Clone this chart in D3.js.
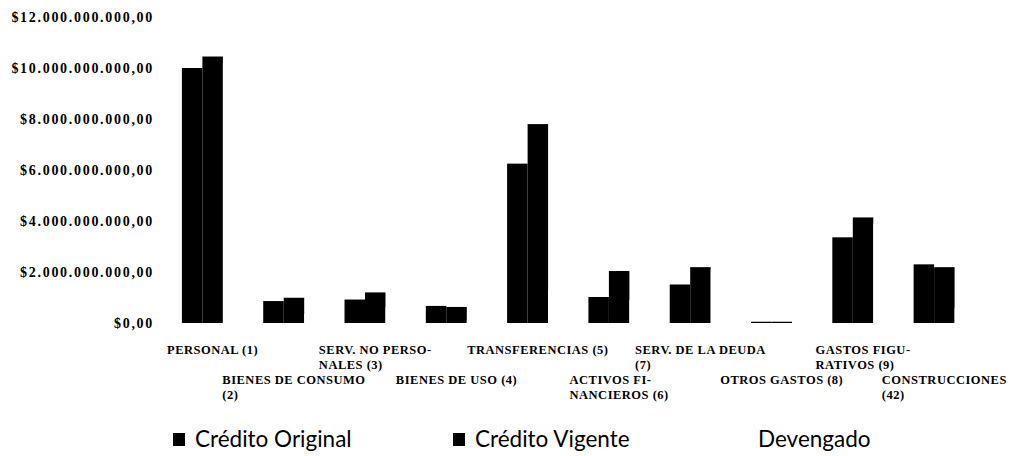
<!DOCTYPE html>
<html>
<head>
<meta charset="utf-8">
<script src="https://cdn.jsdelivr.net/npm/d3@7"></script>
<style>
  html, body { margin: 0; padding: 0; background: #fff; }
  svg { display: block; }
</style>
</head>
<body>
<svg id="chart" width="1013" height="456"></svg>
<script>
// ---- data ----
const categories = [
  "PERSONAL (1)",
  "BIENES DE CONSUMO\n(2)",
  "SERV. NO PERSO-\nNALES (3)",
  "BIENES DE USO (4)",
  "TRANSFERENCIAS (5)",
  "ACTIVOS FI-\nNANCIEROS (6)",
  "SERV. DE LA DEUDA\n(7)",
  "OTROS GASTOS (8)",
  "GASTOS FIGU-\nRATIVOS (9)",
  "CONSTRUCCIONES\n(42)"
];
const seriesNames = ["Crédito Original", "Crédito Vigente", "Devengado"];
const creditoOriginal = [10.0e9, 0.86e9, 0.92e9, 0.67e9, 6.25e9, 1.02e9, 1.51e9, 0.05e9, 3.36e9, 2.30e9];
const creditoVigente  = [10.45e9, 0.99e9, 1.20e9, 0.63e9, 7.80e9, 2.04e9, 2.19e9, 0.05e9, 4.14e9, 2.19e9];
const devengado       = [10.2e9, 0.35e9, 0.62e9, 0.10e9, 1.30e9, 0.90e9, 2.10e9, 0.03e9, 3.90e9, 0.60e9];
const yTicks = [0, 2e9, 4e9, 6e9, 8e9, 10e9, 12e9];
const seriesColors = ["#000000", "#000000", "#ffffff"];

const seriesValues = [creditoOriginal, creditoVigente, devengado];

// ---- layout ----
const svg = d3.select("#chart");
const x0 = d3.scaleBand().domain(d3.range(categories.length)).range([172, 985])
  .paddingInner(0.244).paddingOuter(0.122);
const x1 = d3.scaleBand().domain(d3.range(seriesNames.length)).range([0, x0.bandwidth()]);
const y = d3.scaleLinear().domain([0, 12e9]).range([323, 17]);

const locale = d3.formatLocale({decimal: ",", thousands: ".", grouping: [3], currency: ["$", ""]});
const fmt = locale.format("$,.2f");

// y axis (labels only)
const yAxis = d3.axisLeft(y).tickValues(yTicks).tickFormat(fmt).tickSize(0).tickPadding(0);
const yg = svg.append("g").attr("transform", "translate(154,0)").call(yAxis);
yg.select(".domain").remove();
yg.selectAll("text")
  .attr("font-family", "'Liberation Serif', 'DejaVu Serif', serif")
  .attr("font-weight", "bold")
  .attr("font-size", "14px")
  .attr("letter-spacing", "1.7px")
  .attr("fill", "#000");

// bars
const groups = svg.append("g").selectAll("g")
  .data(categories.map((c, i) => i))
  .join("g")
  .attr("transform", i => `translate(${x0(i)},0)`);

groups.selectAll("rect")
  .data(i => seriesValues.map((vals, s) => ({s, v: vals[i]})))
  .join("rect")
  .attr("x", d => x1(d.s))
  .attr("width", x1.bandwidth())
  .attr("y", d => y(d.v))
  .attr("height", d => y(0) - y(d.v))
  .attr("fill", d => seriesColors[d.s]);

// x labels (staggered, two rows)
const labelG = svg.append("g");
categories.forEach((c, i) => {
  const lines = c.split("\n");
  const row = i % 2;
  const baseY = row === 0 ? 354 : 384;
  const t = labelG.append("text")
    .attr("font-family", "'Liberation Serif', 'DejaVu Serif', serif")
    .attr("font-weight", "bold")
    .attr("font-size", "12.5px")
    .attr("letter-spacing", "0.5px")
    .attr("fill", "#000");
  lines.forEach((ln, k) => {
    t.append("tspan").attr("x", 0).attr("y", baseY + k * 14.5).text(ln);
  });
  let maxW = 0;
  t.selectAll("tspan").each(function() { maxW = Math.max(maxW, this.getComputedTextLength()); });
  const cx = x0(i) + x0.bandwidth() / 2;
  t.selectAll("tspan").attr("x", cx - maxW / 2);
});

// legend
const legendX = [173, 453, 736];
const legend = svg.append("g");
seriesNames.forEach((name, s) => {
  legend.append("rect")
    .attr("x", legendX[s]).attr("y", 433)
    .attr("width", 12).attr("height", 13)
    .attr("fill", seriesColors[s]);
  legend.append("text")
    .attr("x", legendX[s] + 22).attr("y", 447)
    .attr("font-family", "Lato, 'Open Sans', sans-serif")
    .attr("font-size", "22.5px")
    .attr("fill", "#000")
    .text(name);
});
</script>
</body>
</html>
